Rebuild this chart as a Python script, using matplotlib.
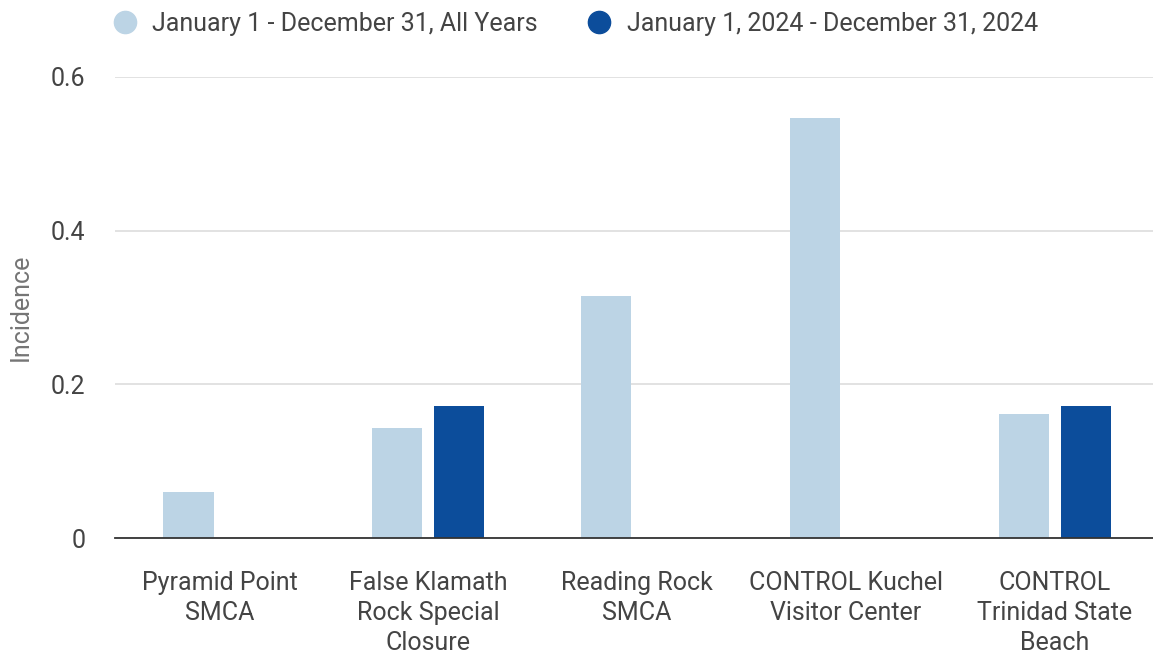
import matplotlib
matplotlib.use("Agg")
import matplotlib.pyplot as plt
from matplotlib.lines import Line2D
import numpy as np

plt.rcParams['font.family'] = ['Roboto', 'DejaVu Sans']

categories = ["Pyramid Point\nSMCA", "False Klamath\nRock Special\nClosure", "Reading Rock\nSMCA",
              "CONTROL Kuchel\nVisitor Center", "CONTROL\nTrinidad State\nBeach"]
series_names = ["January 1 - December 31, All Years", "January 1, 2024 - December 31, 2024"]
all_years = [0.06, 0.143, 0.315, 0.547, 0.162]
year_2024 = [0.0, 0.172, 0.0, 0.0, 0.172]
yticks = [0, 0.2, 0.4, 0.6]
ytick_labels = ["0", "0.2", "0.4", "0.6"]

light = "#bcd4e5"
dark = "#0c4d9b"
text_col = "#444444"

W, H = 1153, 656
fig = plt.figure(figsize=(W / 100, H / 100), dpi=100)
ax = fig.add_axes([115 / W, (H - 538) / H, (1153 - 115) / W, (538 - 77) / H])

x = np.arange(len(categories))
bw = 0.24
off = 0.148
ax.bar(x - off, all_years, bw, color=light, zorder=3)
ax.bar(x + off, year_2024, bw, color=dark, zorder=3)

ax.set_xlim(-0.5, 4.47)
ax.set_ylim(0, 0.6)
ax.set_yticks(yticks)
ax.set_yticklabels(ytick_labels)
ax.set_xticks(x)
ax.set_xticklabels(categories, linespacing=1.32)
ax.tick_params(axis='both', length=0, labelsize=18, colors=text_col)
ax.tick_params(axis='y', pad=21.5)
ax.tick_params(axis='x', pad=24)
ax.grid(axis='y', color="#dddddd", linewidth=1.2, zorder=0)
for s in ['top', 'right', 'left']:
    ax.spines[s].set_visible(False)
ax.spines['bottom'].set_color("#333333")
ax.spines['bottom'].set_linewidth(1.3)
ax.spines['bottom'].set_zorder(4)
ax.set_ylabel("Incidence", fontsize=18, color="#757575")
ax.yaxis.set_label_coords(33 / W, (H - 307) / H, transform=fig.transFigure)

handles = [Line2D([], [], marker='o', linestyle='none', markersize=16, color=c) for c in (light, dark)]
fig.legend(handles, series_names, loc='center left', bbox_to_anchor=(100 / W, 1 - 24 / H),
           ncol=2, frameon=False, fontsize=18, handletextpad=0.1, columnspacing=1.45,
           labelcolor=text_col, borderaxespad=0, borderpad=0)

fig.savefig("out.png", dpi=100)
